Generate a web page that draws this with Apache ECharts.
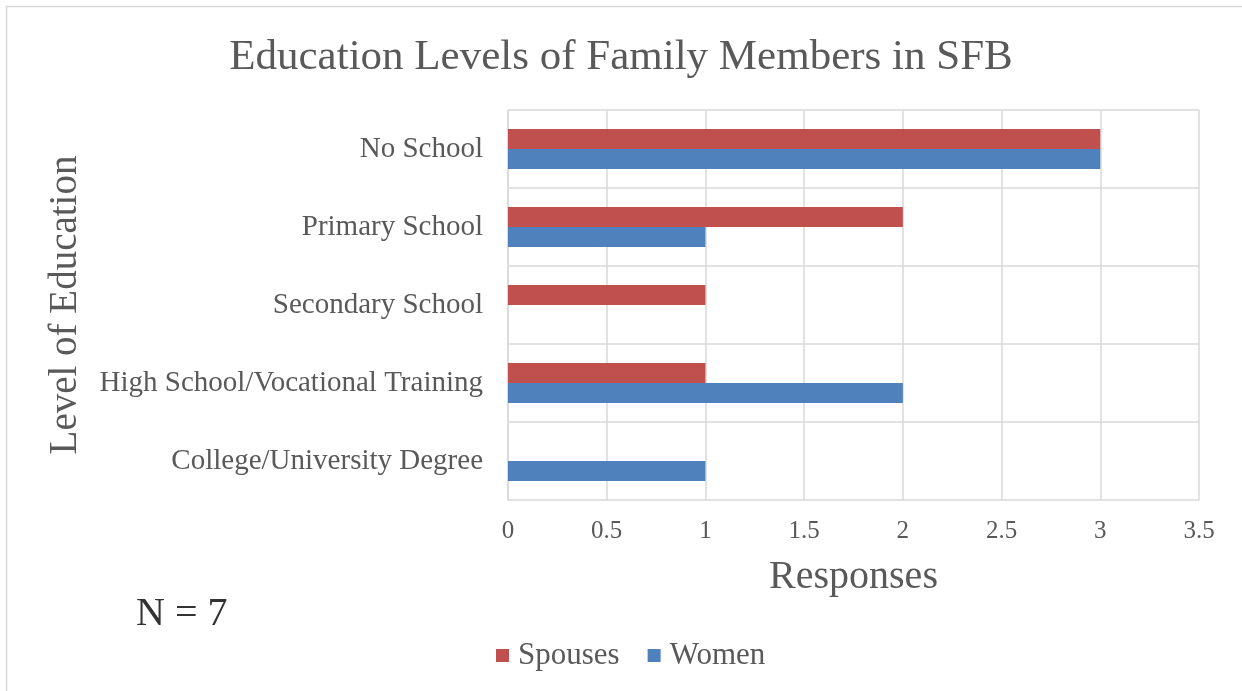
<!DOCTYPE html>
<html>
<head>
<meta charset="utf-8">
<script src="https://cdn.jsdelivr.net/npm/echarts@6/dist/echarts.min.js"></script>
<style>
  html, body { margin: 0; padding: 0; background: #fff; }
  #chart { width: 1242px; height: 691px; }
</style>
</head>
<body>
<div id="chart"></div>
<script>
var categories = ["No School", "Primary School", "Secondary School", "High School/Vocational Training", "College/University Degree"];
var spouses = [3, 2, 1, 1, 0];
var women = [3, 1, 0, 2, 1];
var xTicks = [0, 0.5, 1, 1.5, 2, 2.5, 3, 3.5];

var font = "Liberation Serif";
var textColor = "#595959";

var myChart = echarts.init(document.getElementById("chart"));
var option = {
  backgroundColor: "#fff",
  animation: false,
  title: {
    text: "Education Levels of Family Members in SFB",
    left: "center",
    top: 31,
    textStyle: { fontFamily: font, fontSize: 43, fontWeight: "normal", color: textColor }
  },
  legend: {
    data: ["Spouses", "Women"],
    bottom: 15,
    left: 491,
    itemWidth: 13,
    itemHeight: 13,
    itemGap: 28,
    icon: "rect",
    textStyle: { fontFamily: font, fontSize: 31, color: textColor, padding: [0, 0, 0, 4] }
  },
  grid: { left: 508, right: 43, top: 110, bottom: 191 },
  xAxis: {
    type: "value",
    min: 0,
    max: 3.5,
    interval: 0.5,
    name: "Responses",
    nameLocation: "middle",
    nameGap: 57,
    nameTextStyle: { fontFamily: font, fontSize: 40, color: textColor },
    axisLine: { show: false },
    axisTick: { show: false },
    axisLabel: {
      margin: 19,
      fontFamily: font, fontSize: 25, color: textColor,
      formatter: function (v) { return xTicks.indexOf(v) >= 0 ? String(v) : ""; }
    },
    splitLine: { show: true, lineStyle: { color: "#d9d9d9", width: 1.5 } }
  },
  yAxis: {
    type: "category",
    data: categories,
    inverse: true,
    name: "Level of Education",
    nameLocation: "middle",
    nameGap: 423,
    nameRotate: 90,
    nameTextStyle: { fontFamily: font, fontSize: 39, color: textColor },
    axisLine: { show: true, lineStyle: { color: "#d9d9d9", width: 1.5 } },
    axisTick: { show: false },
    axisLabel: { margin: 25, fontFamily: font, fontSize: 29, color: textColor, padding: [4, 0, 0, 0] },
    splitLine: { show: true, lineStyle: { color: "#d9d9d9", width: 1.5 } }
  },
  series: [
    {
      name: "Spouses",
      type: "bar",
      data: spouses,
      barWidth: 20,
      barGap: "0%",
      itemStyle: { color: "#C0504D" }
    },
    {
      name: "Women",
      type: "bar",
      data: women,
      barWidth: 20,
      barGap: "0%",
      itemStyle: { color: "#4F81BD" }
    }
  ],
  graphic: [
    {
      type: "rect",
      shape: { x: 6.5, y: 6.5, width: 1300, height: 800 },
      style: { fill: "none", stroke: "#d9d9d9", lineWidth: 1.5 },
      silent: true
    },
    {
      type: "text",
      left: 136,
      top: 594,
      style: { text: "N = 7", font: "40px 'Liberation Serif'", fill: "#333" }
    }
  ]
};
option && myChart.setOption(option);
</script>
</body>
</html>
